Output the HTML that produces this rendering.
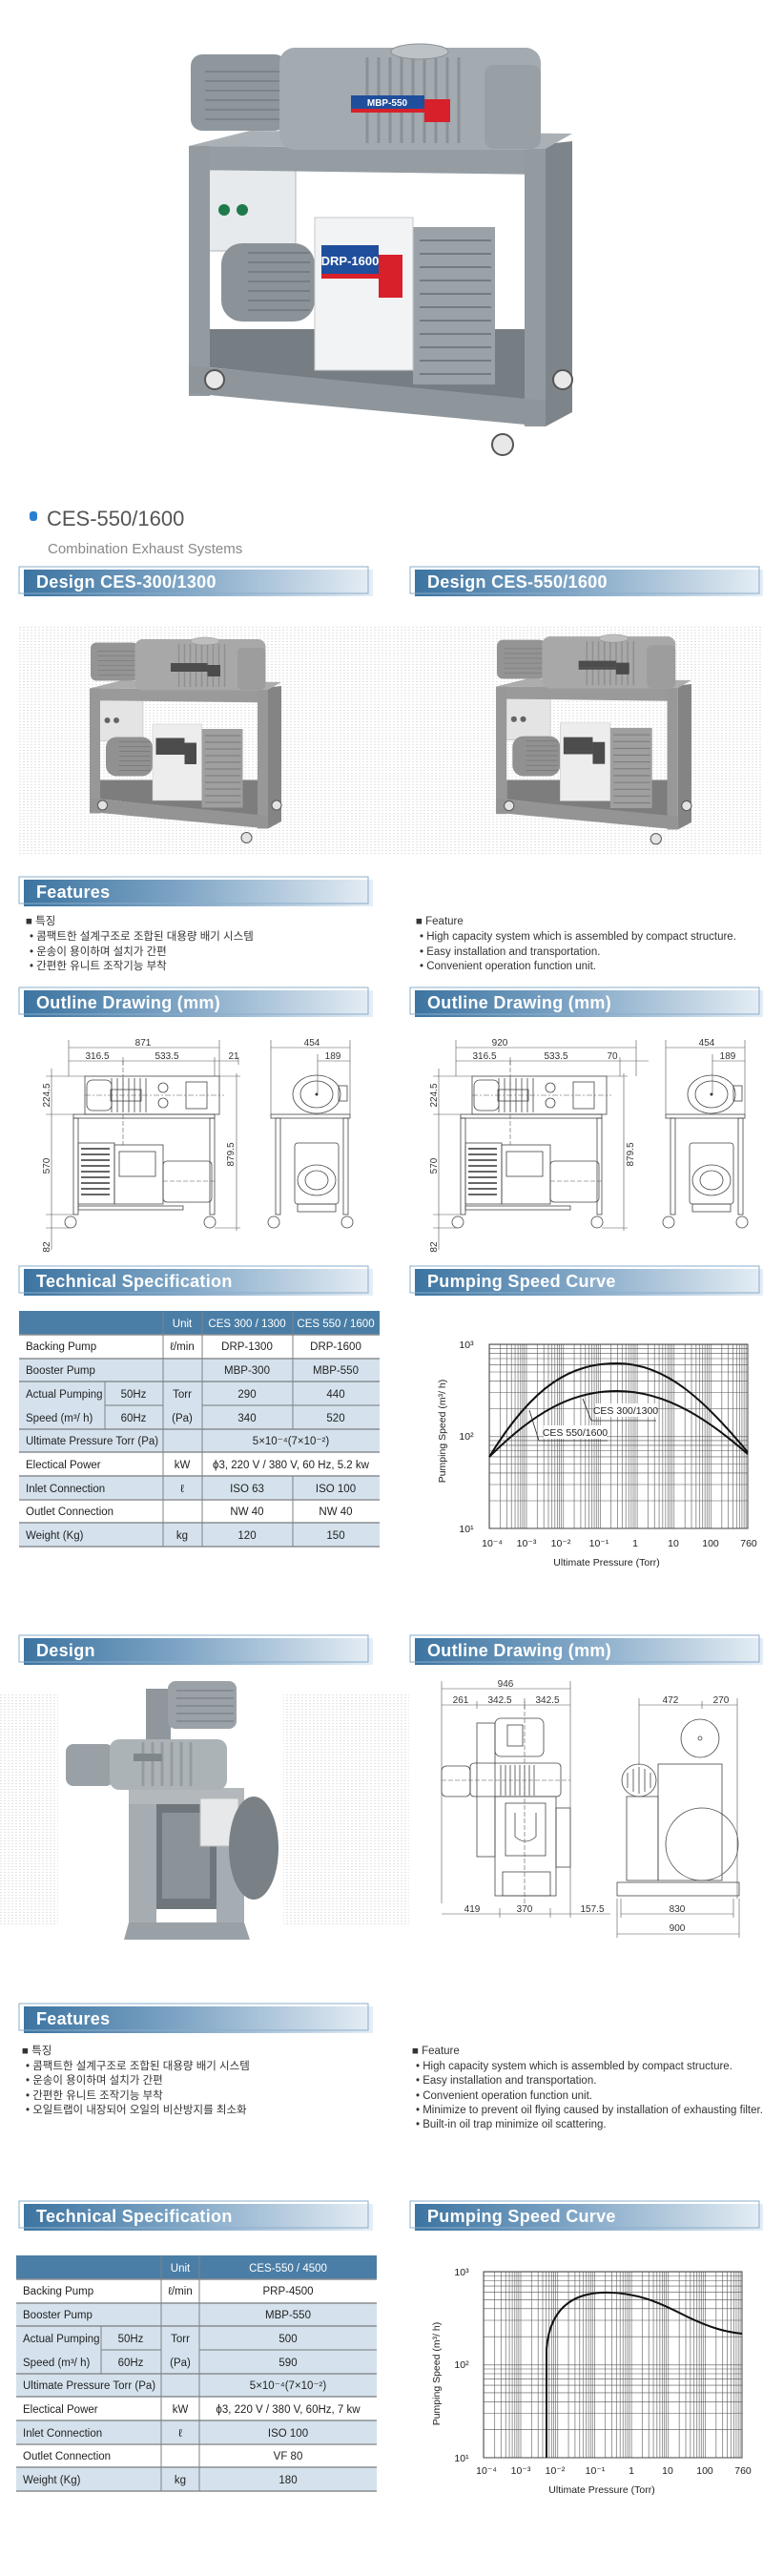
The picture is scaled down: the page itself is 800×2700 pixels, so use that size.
<!DOCTYPE html>
<html><head><meta charset="utf-8">
<style>
html,body{margin:0;padding:0;background:#fff;}
svg{display:block;}
text{font-family:"Liberation Sans","Noto Sans CJK KR",sans-serif;}
.h{fill:#fff;font-weight:bold;font-size:18px;letter-spacing:0.3px;}
.t{font-size:11.5px;fill:#222;}
.d{font-size:10px;fill:#333;}
.f{font-size:11.5px;fill:#333;}
.ln{stroke:#444;stroke-width:0.8;fill:none;}
.dl{stroke:#555;stroke-width:0.6;fill:none;}
.gy{filter:grayscale(1) contrast(0.95);}
</style></head>
<body>
<svg width="800" height="2700" viewBox="0 0 800 2700" xmlns="http://www.w3.org/2000/svg">
<defs>
<linearGradient id="hg" x1="0" x2="1" y1="0" y2="0">
<stop offset="0" stop-color="#3c74a1"/><stop offset="0.45" stop-color="#7fa5c5"/><stop offset="1" stop-color="#e6eef5"/>
</linearGradient>
<pattern id="dots" width="4" height="3" patternUnits="userSpaceOnUse"><rect width="2" height="1" fill="#e4e4e4"/></pattern>
<pattern id="vg1" x="513" y="0" width="38.7" height="10" patternUnits="userSpaceOnUse"><path d="M0.3 0V10M11.65 0V10M18.5 0V10M23.3 0V10M27.05 0V10M30.1 0V10M32.7 0V10M34.9 0V10M36.9 0V10" stroke="#555" stroke-width="0.6"/></pattern>
<pattern id="hg1" x="0" y="1409" width="10" height="96.5" patternUnits="userSpaceOnUse"><path d="M0 0.3H10M0 67.5H10M0 50.5H10M0 38.4H10M0 29H10M0 21.4H10M0 15H10M0 9.4H10M0 4.4H10" stroke="#555" stroke-width="0.6"/></pattern>
<pattern id="vg2" x="507" y="0" width="38.7" height="10" patternUnits="userSpaceOnUse"><path d="M0.3 0V10M11.65 0V10M18.5 0V10M23.3 0V10M27.05 0V10M30.1 0V10M32.7 0V10M34.9 0V10M36.9 0V10" stroke="#555" stroke-width="0.6"/></pattern>
<pattern id="hg2" x="0" y="2381" width="10" height="97.5" patternUnits="userSpaceOnUse"><path d="M0 0.3H10M0 68.2H10M0 51H10M0 38.8H10M0 29.4H10M0 21.6H10M0 15.1H10M0 9.5H10M0 4.5H10" stroke="#555" stroke-width="0.6"/></pattern>

<g id="mach">
 <polygon points="572,151 600,148 600,432 572,447" fill="#7d858b"/>
 <polygon points="198,153 262,137 600,140 572,156" fill="#aab1b6"/>
 <polygon points="220,345 552,345 572,422 220,385" fill="#767e84"/>
 <rect x="215" y="178" width="95" height="85" fill="#e6eaec" stroke="#b0b6ba"/>
 <circle cx="235" cy="220" r="6" fill="#1e7a4a"/><circle cx="254" cy="220" r="6" fill="#1e7a4a"/>
 <rect x="232" y="255" width="98" height="82" rx="22" fill="#8b9399"/>
 <path d="M260 265H325M260 275H325M260 285H325M260 295H325M260 305H325M260 315H325M260 325H325" stroke="#6f777d" stroke-width="1.5"/>
 <rect x="433" y="238" width="86" height="165" fill="#9aa2a8"/>
 <path d="M440 252H515M440 266H515M440 280H515M440 294H515M440 308H515M440 322H515M440 336H515M440 350H515M440 364H515M440 378H515M440 392H515" stroke="#737b81" stroke-width="2"/>
 <rect x="330" y="228" width="103" height="160" fill="#f2f3f4" stroke="#c5c9cc"/>
 <rect x="337" y="257" width="60" height="30" fill="#1f4e9c"/>
 <rect x="397" y="267" width="25" height="45" fill="#d8202a"/>
 <rect x="337" y="287" width="60" height="5" fill="#d8202a"/>
 <polygon points="198,153 572,156 572,183 198,178" fill="#959da3"/>
 <rect x="198" y="153" width="22" height="262" fill="#939ba1"/>
 <rect x="550" y="156" width="22" height="291" fill="#939ba1"/>
 <polygon points="198,383 572,420 572,447 198,412" fill="#8e969c"/>
 <rect x="200" y="57" width="100" height="80" rx="12" fill="#8e979d"/>
 <path d="M215 75H295M215 85H295M215 95H295M215 105H295M215 115H295M215 125H295" stroke="#767e84" stroke-width="1.5"/>
 <rect x="293" y="50" width="274" height="107" rx="16" fill="#a3abb1"/>
 <path d="M385 60V150M397 60V150M409 60V150M421 60V150M433 60V150M445 60V150M457 60V150M469 60V150M481 60V150" stroke="#8a9298" stroke-width="3"/>
 <rect x="508" y="68" width="59" height="88" rx="10" fill="#98a0a6"/>
 <ellipse cx="440" cy="54" rx="30" ry="8" fill="#bcc2c6" stroke="#8a9298"/>
 <rect x="368" y="100" width="77" height="14" fill="#1f4e9c"/>
 <rect x="445" y="104" width="27" height="24" fill="#d8202a"/>
 <rect x="368" y="114" width="77" height="4" fill="#d8202a"/>
 <circle cx="225" cy="398" r="10" fill="#e8e8e8" stroke="#555" stroke-width="2"/>
 <circle cx="590" cy="398" r="10" fill="#e8e8e8" stroke="#555" stroke-width="2"/>
 <circle cx="527" cy="466" r="11" fill="#e8e8e8" stroke="#555" stroke-width="2"/>
</g>

<g id="fr">
 <rect class="ln" x="89" y="1128" width="141" height="40"/>
 <rect class="ln" x="91" y="1132" width="26" height="32" rx="6"/>
 <path class="ln" d="M117 1130V1166M123 1130V1166M129 1130V1166M135 1130V1166M141 1130V1166M147 1130V1166M153 1130V1166"/>
 <rect class="ln" x="116" y="1142" width="32" height="12"/>
 <circle class="ln" cx="171" cy="1140" r="5"/><circle class="ln" cx="171" cy="1156" r="5"/>
 <rect class="ln" x="195" y="1134" width="22" height="28"/>
 <path class="dl" d="M89 1148H235" stroke-dasharray="6 2 2 2"/>
 <rect class="ln" x="77" y="1168" width="148" height="4"/>
 <rect class="ln" x="77" y="1172" width="5" height="101"/>
 <rect class="ln" x="220" y="1172" width="5" height="101"/>
 <rect class="ln" x="82" y="1198" width="38" height="64"/>
 <path d="M85 1204H115M85 1210H115M85 1216H115M85 1222H115M85 1228H115M85 1234H115M85 1240H115M85 1246H115M85 1252H115" stroke="#333" stroke-width="1.6"/>
 <rect class="ln" x="120" y="1200" width="51" height="62"/>
 <rect class="ln" x="125" y="1207" width="38" height="26"/>
 <rect class="ln" x="171" y="1217" width="51" height="43" rx="4"/>
 <rect class="ln" x="82" y="1264" width="110" height="4"/>
 <path class="dl" d="M129 1112V1200M171 1238H225" stroke-dasharray="5 2"/>
 <circle class="ln" cx="74" cy="1281" r="6"/><circle class="ln" cx="220" cy="1281" r="6"/>
 <path class="dl" d="M54 1120V1310M48 1128H89M48 1168H77M48 1273H77M48 1287H74M248 1125V1290M230 1128H252M225 1287H252"/>
</g>
<g id="sd">
 <ellipse class="ln" cx="332" cy="1147" rx="25" ry="20"/>
 <ellipse class="ln" cx="332" cy="1147" rx="17" ry="14"/>
 <circle cx="332" cy="1147" r="1.5" fill="#333"/>
 <rect class="ln" x="355" y="1138" width="9" height="16"/>
 <rect class="ln" x="284" y="1168" width="83" height="4"/>
 <rect class="ln" x="289" y="1172" width="5" height="101"/>
 <rect class="ln" x="360" y="1172" width="5" height="101"/>
 <rect class="ln" x="309" y="1198" width="46" height="64" rx="3"/>
 <ellipse class="ln" cx="332" cy="1237" rx="20" ry="16"/>
 <ellipse class="ln" cx="332" cy="1237" rx="12" ry="10"/>
 <rect class="ln" x="312" y="1262" width="40" height="8"/>
 <circle class="ln" cx="287" cy="1281" r="6"/><circle class="ln" cx="364" cy="1281" r="6"/>
 <path class="dl" d="M284 1090V1168M367 1090V1168M333 1105V1147"/>
</g>
</defs>

<!-- top photo -->
<use href="#mach"/>
<text x="406" y="111" font-size="10" font-weight="bold" fill="#fff" text-anchor="middle">MBP-550</text>
<text x="367" y="278" font-size="13" font-weight="bold" fill="#fff" text-anchor="middle">DRP-1600</text>

<!-- title -->
<rect x="31" y="536" width="8" height="10" rx="3" fill="#2b7fd0"/>
<text x="49" y="551" font-size="22" fill="#555">CES-550/1600</text>
<text x="50" y="580" font-size="15" fill="#888">Combination Exhaust Systems</text>

<!-- headers -->
<g>
<rect x="25" y="597" width="366" height="28" fill="url(#hg)"/><rect x="20" y="594" width="366" height="28" fill="none" stroke="#8aadcb"/>
<text class="h" x="38" y="616">Design  CES-300/1300</text>
<rect x="435" y="597" width="365" height="28" fill="url(#hg)"/><rect x="430" y="594" width="366" height="28" fill="none" stroke="#8aadcb"/>
<text class="h" x="448" y="616">Design  CES-550/1600</text>

<rect x="25" y="922" width="366" height="28" fill="url(#hg)"/><rect x="20" y="919" width="366" height="28" fill="none" stroke="#8aadcb"/>
<text class="h" x="38" y="941">Features</text>

<rect x="25" y="1038" width="366" height="28" fill="url(#hg)"/><rect x="20" y="1035" width="366" height="28" fill="none" stroke="#8aadcb"/>
<text class="h" x="38" y="1057">Outline Drawing (mm)</text>
<rect x="435" y="1038" width="365" height="28" fill="url(#hg)"/><rect x="430" y="1035" width="366" height="28" fill="none" stroke="#8aadcb"/>
<text class="h" x="448" y="1057">Outline Drawing (mm)</text>

<rect x="25" y="1330" width="366" height="28" fill="url(#hg)"/><rect x="20" y="1327" width="366" height="28" fill="none" stroke="#8aadcb"/>
<text class="h" x="38" y="1349">Technical Specification</text>
<rect x="435" y="1330" width="365" height="28" fill="url(#hg)"/><rect x="430" y="1327" width="366" height="28" fill="none" stroke="#8aadcb"/>
<text class="h" x="448" y="1349">Pumping Speed Curve</text>

<rect x="25" y="1717" width="366" height="28" fill="url(#hg)"/><rect x="20" y="1714" width="366" height="28" fill="none" stroke="#8aadcb"/>
<text class="h" x="38" y="1736">Design</text>
<rect x="435" y="1717" width="365" height="28" fill="url(#hg)"/><rect x="430" y="1714" width="366" height="28" fill="none" stroke="#8aadcb"/>
<text class="h" x="448" y="1736">Outline Drawing (mm)</text>

<rect x="25" y="2103" width="366" height="28" fill="url(#hg)"/><rect x="20" y="2100" width="366" height="28" fill="none" stroke="#8aadcb"/>
<text class="h" x="38" y="2122">Features</text>

<rect x="25" y="2310" width="366" height="28" fill="url(#hg)"/><rect x="20" y="2307" width="366" height="28" fill="none" stroke="#8aadcb"/>
<text class="h" x="38" y="2329">Technical Specification</text>
<rect x="435" y="2310" width="365" height="28" fill="url(#hg)"/><rect x="430" y="2307" width="366" height="28" fill="none" stroke="#8aadcb"/>
<text class="h" x="448" y="2329">Pumping Speed Curve</text>
</g>

<!-- design photos 1 -->
<rect x="20" y="657" width="780" height="240" fill="url(#dots)"/>
<g class="gy" transform="translate(95,666) scale(0.5) translate(-200,-42)"><use href="#mach"/></g>
<g class="gy" transform="translate(521,663) scale(0.51) translate(-200,-42)"><use href="#mach"/></g>

<!-- features 1 -->
<text class="f" x="27" y="969">■ 특징</text>
<text class="f" x="31" y="985">• 콤팩트한 설계구조로 조합된 대용량 배기 시스템</text>
<text class="f" x="31" y="1001">• 운송이 용이하며 설치가 간편</text>
<text class="f" x="31" y="1016">• 간편한 유니트 조작기능 부착</text>
<text class="f" x="436" y="969">■ Feature</text>
<text class="f" x="440" y="985">• High capacity system which is assembled by compact structure.</text>
<text class="f" x="440" y="1001">• Easy installation and transportation.</text>
<text class="f" x="440" y="1016">• Convenient operation function unit.</text>

<!-- outline drawings 1 -->
<use href="#fr"/><use href="#sd"/>
<g transform="translate(406,0)"><use href="#fr"/></g>
<g transform="translate(414,0)"><use href="#sd"/></g>
<path class="dl" d="M72 1098H230M72 1112H250M72 1090V1128M129 1108V1116M225 1108V1128M230 1090V1128M250 1108V1116M284 1098H367M333 1112H367"/>
<path class="dl" d="M478 1098H667M478 1112H680M478 1090V1128M535 1108V1116M650 1108V1128M667 1090V1128M698 1098H781M747 1112H781"/>
<g class="d" text-anchor="middle">
<text x="150" y="1096">871</text><text x="102" y="1110">316.5</text><text x="175" y="1110">533.5</text><text x="245" y="1110">21</text>
<text x="327" y="1096">454</text><text x="349" y="1110">189</text>
<text x="524" y="1096">920</text><text x="508" y="1110">316.5</text><text x="583" y="1110">533.5</text><text x="642" y="1110">70</text>
<text x="741" y="1096">454</text><text x="763" y="1110">189</text>
<text transform="translate(52,1148) rotate(-90)">224.5</text>
<text transform="translate(52,1222) rotate(-90)">570</text>
<text transform="translate(52,1307) rotate(-90)">82</text>
<text transform="translate(245,1210) rotate(-90)">879.5</text>
<text transform="translate(458,1148) rotate(-90)">224.5</text>
<text transform="translate(458,1222) rotate(-90)">570</text>
<text transform="translate(458,1307) rotate(-90)">82</text>
<text transform="translate(664,1210) rotate(-90)">879.5</text>
</g>

<!-- table 1 -->
<g>
<rect x="20" y="1374" width="378" height="25" fill="#4a7ea6"/>
<rect x="20" y="1424" width="378" height="98" fill="#d5e2ed"/>
<rect x="20" y="1547" width="378" height="24" fill="#d5e2ed"/>
<rect x="20" y="1596" width="378" height="25" fill="#d5e2ed"/>
<path d="M20 1399H398M20 1424H398M20 1448H398M20 1498H398M20 1522H398M20 1547H398M20 1572H398M20 1596H398M20 1621H398" stroke="#8a8e92" stroke-width="1.6"/>
<path d="M110 1473H171M212 1473H398" stroke="#8a8e92" stroke-width="1.2"/>
<path d="M171 1374V1621M212 1374V1621M307 1374V1498M307 1547V1621M110 1448V1498" stroke="#7d8286" stroke-width="1"/>
<g class="t" fill="#fff">
<text x="191" y="1391" text-anchor="middle" fill="#fff">Unit</text>
<text x="259" y="1391" text-anchor="middle" fill="#fff">CES 300 / 1300</text>
<text x="352" y="1391" text-anchor="middle" fill="#fff">CES 550 / 1600</text>
</g>
<g class="t">
<text x="27" y="1415">Backing Pump</text><text x="27" y="1440">Booster Pump</text>
<text x="27" y="1465">Actual Pumping</text><text x="27" y="1490">Speed (m³/ h)</text>
<text x="27" y="1514">Ultimate Pressure Torr (Pa)</text><text x="27" y="1539">Electical Power</text>
<text x="27" y="1564">Inlet Connection</text><text x="27" y="1588">Outlet Connection</text><text x="27" y="1613">Weight  (Kg)</text>
</g>
<g class="t" text-anchor="middle">
<text x="140" y="1465">50Hz</text><text x="140" y="1490">60Hz</text>
<text x="191" y="1415">ℓ/min</text><text x="191" y="1465">Torr</text><text x="191" y="1490">(Pa)</text>
<text x="191" y="1539">kW</text><text x="191" y="1564">ℓ</text><text x="191" y="1613">kg</text>
<text x="259" y="1415">DRP-1300</text><text x="352" y="1415">DRP-1600</text>
<text x="259" y="1440">MBP-300</text><text x="352" y="1440">MBP-550</text>
<text x="259" y="1465">290</text><text x="352" y="1465">440</text>
<text x="259" y="1490">340</text><text x="352" y="1490">520</text>
<text x="305" y="1514">5×10⁻⁴(7×10⁻²)</text>
<text x="305" y="1539">ϕ3, 220 V / 380 V, 60 Hz, 5.2 kw</text>
<text x="259" y="1564">ISO 63</text><text x="352" y="1564">ISO 100</text>
<text x="259" y="1588">NW 40</text><text x="352" y="1588">NW 40</text>
<text x="259" y="1613">120</text><text x="352" y="1613">150</text>
</g>
</g>

<!-- chart 1 -->
<rect x="513" y="1409" width="271" height="193" fill="url(#vg1)"/>
<rect x="513" y="1409" width="271" height="193" fill="url(#hg1)"/>
<rect x="513" y="1409" width="271" height="193" fill="none" stroke="#444" stroke-width="1"/>
<path d="M513 1527C560 1450 600 1429 647 1429C700 1429 740 1470 784 1522" stroke="#111" stroke-width="2" fill="none"/>
<path d="M513 1527C560 1480 600 1458 647 1458C700 1458 745 1490 784 1524" stroke="#111" stroke-width="2" fill="none"/>
<path d="M611 1466L620 1489H688M555 1478L565 1510H637" stroke="#222" stroke-width="0.8" fill="none"/>
<rect x="624" y="1471" width="64" height="14" fill="#fff"/><rect x="570" y="1494" width="66" height="14" fill="#fff"/>
<text x="656" y="1482" font-size="10.5" text-anchor="middle" fill="#222">CES 300/1300</text>
<text x="603" y="1505" font-size="10.5" text-anchor="middle" fill="#222">CES 550/1600</text>
<g font-size="10.5" fill="#222" text-anchor="middle">
<text x="489" y="1413">10³</text><text x="489" y="1509">10²</text><text x="489" y="1606">10¹</text>
<text x="516" y="1621">10⁻⁴</text><text x="552" y="1621">10⁻³</text><text x="588" y="1621">10⁻²</text><text x="628" y="1621">10⁻¹</text>
<text x="666" y="1621">1</text><text x="706" y="1621">10</text><text x="745" y="1621">100</text><text x="785" y="1621">760</text>
<text x="636" y="1641">Ultimate Pressure (Torr)</text>
<text transform="translate(467,1500) rotate(-90)">Pumping Speed (m³/ h)</text>
</g>

<!-- design 2 photo -->
<rect x="0" y="1776" width="61" height="241" fill="url(#dots)"/>
<rect x="297" y="1776" width="132" height="241" fill="url(#dots)"/>
<g>
 <rect x="153" y="1770" width="26" height="60" fill="#8f979c"/>
 <rect x="176" y="1762" width="72" height="50" rx="8" fill="#9ba2a7"/>
 <path d="M185 1772H245M185 1780H245M185 1788H245M185 1796H245M185 1804H245" stroke="#7e868b" stroke-width="1.5"/>
 <rect x="135" y="1874" width="121" height="17" fill="#b2b8bc"/>
 <rect x="135" y="1891" width="29" height="130" fill="#a6adb2"/>
 <rect x="227" y="1891" width="29" height="130" fill="#a6adb2"/>
 <rect x="164" y="1891" width="63" height="110" fill="#6f777c"/>
 <rect x="170" y="1900" width="50" height="90" fill="#8c9398"/>
 <rect x="210" y="1885" width="40" height="50" fill="#e6e8e9" stroke="#bbb"/>
 <ellipse cx="266" cy="1937" rx="26" ry="54" fill="#7a8186"/>
 <rect x="69" y="1828" width="50" height="44" rx="8" fill="#9aa1a6"/>
 <rect x="115" y="1823" width="123" height="53" rx="10" fill="#acb3b7"/>
 <path d="M150 1826V1872M160 1826V1872M170 1826V1872M180 1826V1872M190 1826V1872M200 1826V1872" stroke="#959ca1" stroke-width="3"/>
 <rect x="140" y="1838" width="30" height="8" fill="#7f878c"/>
 <polygon points="135,2015 256,2015 262,2033 130,2033" fill="#9aa1a6"/>
</g>

<!-- outline drawing 2 -->
<g>
 <rect class="ln" x="519" y="1801" width="51" height="40" rx="6"/>
 <rect class="ln" x="532" y="1808" width="16" height="22"/>
 <rect class="ln" x="500" y="1806" width="19" height="140"/>
 <rect class="ln" x="463" y="1851" width="30" height="32" rx="5"/>
 <rect class="ln" x="493" y="1848" width="95" height="35" rx="4"/>
 <path class="ln" d="M525 1850V1882M530 1850V1882M535 1850V1882M540 1850V1882M545 1850V1882M550 1850V1882M555 1850V1882M560 1850V1882"/>
 <rect class="ln" x="519" y="1883" width="64" height="104"/>
 <rect class="ln" x="530" y="1890" width="42" height="55"/>
 <path class="ln" d="M540 1900V1925Q551 1935 562 1925V1900"/>
 <rect class="ln" x="583" y="1895" width="15" height="62"/>
 <rect class="ln" x="527" y="1962" width="50" height="25"/>
 <path class="dl" d="M550 1780V1995M463 1866H598" stroke-dasharray="5 2"/>
 <rect class="ln" x="690" y="1849" width="67" height="122"/>
 <ellipse class="ln" cx="734" cy="1822" rx="20" ry="20"/>
 <circle class="ln" cx="734" cy="1822" r="2"/>
 <ellipse class="ln" cx="670" cy="1866" rx="18" ry="17"/>
 <path class="ln" d="M658 1858V1874M664 1854V1878M670 1852V1880M676 1854V1878M682 1858V1874"/>
 <rect class="ln" x="657" y="1883" width="33" height="88"/>
 <ellipse class="ln" cx="736" cy="1933" rx="38" ry="38"/>
 <rect class="ln" x="647" y="1973" width="128" height="14"/>
 <path class="dl" d="M463 1770H598M463 1787H598M463 1762V1995M500 1783V1791M550 1783V1791M598 1762V2010M670 1787H773M670 1780V1850M736 1783V1791M773 1780V1990M463 2006H598M524 2000V2010M577 2000V2010M598 2006H640M651 2006H769M651 1990V2010M769 1990V2010M647 2027H775M647 1990V2031M775 1990V2031"/>
</g>
<g class="d" text-anchor="middle">
<text x="530" y="1768">946</text><text x="483" y="1785">261</text><text x="524" y="1785">342.5</text><text x="574" y="1785">342.5</text>
<text x="703" y="1785">472</text><text x="756" y="1785">270</text>
<text x="495" y="2004">419</text><text x="550" y="2004">370</text><text x="621" y="2004">157.5</text>
<text x="710" y="2004">830</text><text x="710" y="2024">900</text>
</g>

<!-- features 2 -->
<text class="f" x="23" y="2153">■ 특징</text>
<text class="f" x="27" y="2169">• 콤팩트한 설계구조로 조합된 대용량 배기 시스템</text>
<text class="f" x="27" y="2184">• 운송이 용이하며 설치가 간편</text>
<text class="f" x="27" y="2200">• 간편한 유니트 조작기능 부착</text>
<text class="f" x="27" y="2215">• 오일트랩이 내장되어 오일의 비산방지를 최소화</text>
<text class="f" x="432" y="2153">■ Feature</text>
<text class="f" x="436" y="2169">• High capacity system which is assembled by compact structure.</text>
<text class="f" x="436" y="2184">• Easy installation and transportation.</text>
<text class="f" x="436" y="2200">• Convenient operation function unit.</text>
<text class="f" x="436" y="2215">• Minimize to prevent oil flying caused by installation of exhausting filter.</text>
<text class="f" x="436" y="2230">• Built-in oil trap minimize oil scattering.</text>

<!-- table 2 -->
<g>
<rect x="17" y="2364" width="378" height="25" fill="#4a7ea6"/>
<rect x="17" y="2414" width="378" height="98" fill="#d5e2ed"/>
<rect x="17" y="2537" width="378" height="24" fill="#d5e2ed"/>
<rect x="17" y="2586" width="378" height="25" fill="#d5e2ed"/>
<path d="M17 2389H395M17 2414H395M17 2438H395M17 2488H395M17 2512H395M17 2537H395M17 2562H395M17 2586H395M17 2611H395" stroke="#8a8e92" stroke-width="1.6"/>
<path d="M106 2463H169M209 2463H395" stroke="#8a8e92" stroke-width="1.2"/>
<path d="M169 2364V2611M209 2364V2611M106 2438V2488" stroke="#7d8286" stroke-width="1"/>
<text class="t" x="189" y="2381" text-anchor="middle" fill="#fff" style="fill:#fff">Unit</text>
<text class="t" x="302" y="2381" text-anchor="middle" style="fill:#fff">CES-550 / 4500</text>
<g class="t">
<text x="24" y="2405">Backing Pump</text><text x="24" y="2430">Booster Pump</text>
<text x="24" y="2455">Actual Pumping</text><text x="24" y="2480">Speed (m³/ h)</text>
<text x="24" y="2504">Ultimate Pressure Torr (Pa)</text><text x="24" y="2529">Electical Power</text>
<text x="24" y="2554">Inlet Connection</text><text x="24" y="2578">Outlet Connection</text><text x="24" y="2603">Weight  (Kg)</text>
</g>
<g class="t" text-anchor="middle">
<text x="137" y="2455">50Hz</text><text x="137" y="2480">60Hz</text>
<text x="189" y="2405">ℓ/min</text><text x="189" y="2455">Torr</text><text x="189" y="2480">(Pa)</text>
<text x="189" y="2529">kW</text><text x="189" y="2554">ℓ</text><text x="189" y="2603">kg</text>
<text x="302" y="2405">PRP-4500</text><text x="302" y="2430">MBP-550</text>
<text x="302" y="2455">500</text><text x="302" y="2480">590</text>
<text x="302" y="2504">5×10⁻⁴(7×10⁻²)</text>
<text x="302" y="2529">ϕ3, 220 V / 380 V, 60Hz, 7 kw</text>
<text x="302" y="2554">ISO 100</text><text x="302" y="2578">VF 80</text><text x="302" y="2603">180</text>
</g>
</g>

<!-- chart 2 -->
<rect x="507" y="2381" width="271" height="195" fill="url(#vg2)"/>
<rect x="507" y="2381" width="271" height="195" fill="url(#hg2)"/>
<rect x="507" y="2381" width="271" height="195" fill="none" stroke="#444" stroke-width="1"/>
<path d="M573 2576V2462C576 2425 595 2405 630 2403C670 2401 700 2418 720 2428C745 2440 760 2444 778 2446" stroke="#111" stroke-width="2" fill="none"/>
<g font-size="10.5" fill="#222" text-anchor="middle">
<text x="484" y="2385">10³</text><text x="484" y="2482">10²</text><text x="484" y="2580">10¹</text>
<text x="510" y="2593">10⁻⁴</text><text x="546" y="2593">10⁻³</text><text x="582" y="2593">10⁻²</text><text x="624" y="2593">10⁻¹</text>
<text x="662" y="2593">1</text><text x="700" y="2593">10</text><text x="739" y="2593">100</text><text x="779" y="2593">760</text>
<text x="631" y="2613">Ultimate Pressure (Torr)</text>
<text transform="translate(461,2488) rotate(-90)">Pumping Speed (m³/ h)</text>
</g>
</svg>
</body></html>
